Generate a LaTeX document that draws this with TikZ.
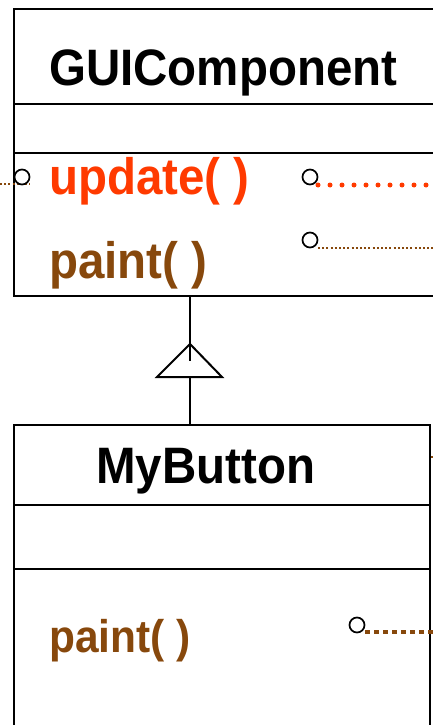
\documentclass[tikz,border=0pt]{standalone}
\usepackage{fontspec}
\usepackage{graphicx}
\setmainfont{Liberation Sans}
\definecolor{opred}{RGB}{255,58,0}
\definecolor{opbrown}{RGB}{135,72,12}
\newcommand{\tallbold}[1]{\scalebox{1.01}[1.09]{#1}}
\begin{document}
\begin{tikzpicture}[x=1pt,y=-1pt,
  classbox/.style={line width=2pt,draw=black},
  port/.style={circle,draw=black,line width=1.7pt,fill=white,minimum size=15pt,inner sep=0pt},
  label/.style={anchor=base west,inner sep=0pt,font=\bfseries},
  finedots/.style={draw=opbrown,line width=2pt,dash pattern=on 2pt off 2.2pt},
  bigdots/.style={draw=opred,line width=5pt,line cap=round,dash pattern=on 0pt off 12pt},
  squaredots/.style={draw=opbrown,line width=4.5pt,dash pattern=on 4.5pt off 4.5pt},
  generalization/.style={line width=2pt,draw=black}]
\useasboundingbox (0,0) rectangle (433,725);
\clip (0,0) rectangle (433,725);

% GUIComponent class box
\draw[classbox] (445,9) -- (14,9) -- (14,296) -- (445,296);
\draw[classbox] (14,104) -- (445,104);
\draw[classbox] (14,153) -- (445,153);
\coordinate (gbottom) at (190,296);

% MyButton class box
\draw[classbox] (14,735) -- (14,425) -- (430,425) -- (430,735);
\draw[classbox] (14,505) -- (430,505);
\draw[classbox] (14,569) -- (430,569);
\coordinate (btop) at (190,425);

% class and operation names
\node[label,font=\bfseries\fontsize{47}{50}\selectfont] (gname) at (49,85) {\tallbold{GUIComponent}};
\node[label,font=\bfseries\fontsize{47}{50}\selectfont,text=opred] (gupdate) at (49,194) {\tallbold{update( )}};
\node[label,font=\bfseries\fontsize{47}{50}\selectfont,text=opbrown] (gpaint) at (49,278) {\tallbold{paint( )}};
\node[label,font=\bfseries\fontsize{47}{50}\selectfont] (bname) at (96,483) {\tallbold{MyButton}};
\node[label,font=\bfseries\fontsize{42}{45}\selectfont,text=opbrown] (bpaint) at (49,652) {\tallbold{paint( )}};

% generalization arrow
\coordinate (apex) at (190,344);
\coordinate (baseL) at (157,377);
\coordinate (baseR) at (222,377);
\coordinate (baseM) at (190,377);
\coordinate (stub) at (190,361);
\draw[generalization] (gbottom) -- (stub);
\draw[generalization,line join=miter] (apex) -- (baseR) -- (baseL) -- cycle;
\draw[generalization] (baseM) -- (btop);

% ports and their dotted links
\coordinate (inL) at (0,184);
\coordinate (inLend) at (30,184);
\draw[finedots] (inL) -- (inLend);
\node[port] (pupdL) at (22,177) {};

\coordinate (updR) at (440,185);
\draw[bigdots] (318,185) -- (updR);
\node[port] (pupdR) at (310,177) {};

\coordinate (paintR) at (440,248);
\draw[finedots] (318,248) -- (paintR);
\node[port] (ppaintR) at (310,240) {};

\coordinate (bpaintR) at (440,632);
\draw[squaredots] (365,632) -- (bpaintR);
\node[port] (pbpaint) at (357,625) {};

\coordinate (edgeA) at (431,457);
\coordinate (edgeB) at (434,457);
\draw[finedots] (edgeA) -- (edgeB);
\end{tikzpicture}
\end{document}
